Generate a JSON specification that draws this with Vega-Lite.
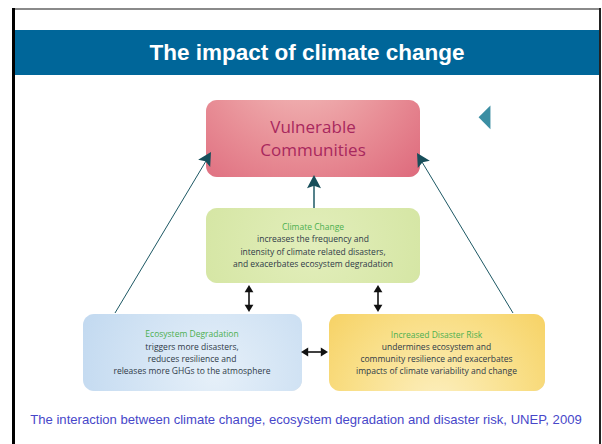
{
  "$schema": "https://vega.github.io/schema/vega-lite/v6.json",
  "width": 602,
  "height": 444,
  "autosize": {"type": "none"},
  "padding": 0,
  "background": "white",
  "config": {"view": {"stroke": null}},
  "encoding": {
    "x": {"field": "x", "type": "quantitative", "scale": {"domain": [0, 602], "nice": false, "zero": false}, "axis": null},
    "y": {"field": "y", "type": "quantitative", "scale": {"domain": [0, 444], "nice": false, "zero": false, "reverse": true}, "axis": null}
  },
  "layer": [
    {
      "data": {"values": [{"x": 15, "x2": 599, "y": 30, "y2": 75}]},
      "mark": {"type": "rect", "color": "#006699"},
      "encoding": {"x2": {"field": "x2"}, "y2": {"field": "y2"}}
    },
    {
      "data": {"values": [{"part": "top", "x": 12, "x2": 601, "y": 9, "y2": 9}]},
      "mark": {"type": "rule", "color": "#8a8a8a", "strokeWidth": 2},
      "encoding": {"x2": {"field": "x2"}, "y2": {"field": "y2"}}
    },
    {
      "data": {"values": [{"part": "left", "x": 13.5, "x2": 13.5, "y": 8, "y2": 444}]},
      "mark": {"type": "rule", "color": "#000000", "strokeWidth": 3},
      "encoding": {"x2": {"field": "x2"}, "y2": {"field": "y2"}}
    },
    {
      "data": {"values": [{"part": "right", "x": 600, "x2": 600, "y": 8, "y2": 444}]},
      "mark": {"type": "rule", "color": "#222222", "strokeWidth": 2},
      "encoding": {"x2": {"field": "x2"}, "y2": {"field": "y2"}}
    },
    {
      "data": {"values": [{"text": "The impact of climate change", "x": 307, "y": 53}]},
      "mark": {"type": "text", "font": "Liberation Sans", "fontWeight": "bold", "fontSize": 22.5, "color": "white", "align": "center", "baseline": "middle"},
      "encoding": {"text": {"field": "text"}}
    },
    {
      "data": {"values": [
        {"box": "vc", "x": 206, "x2": 420, "y": 100, "y2": 177},
        {"box": "cc", "x": 206, "x2": 420, "y": 208, "y2": 283},
        {"box": "ed", "x": 83, "x2": 302, "y": 314, "y2": 391},
        {"box": "dr", "x": 329, "x2": 545, "y": 314, "y2": 391}
      ]},
      "mark": {"type": "rect", "cornerRadius": 11, "color": "#000000", "opacity": 0.12, "xOffset": 2, "yOffset": 3},
      "encoding": {"x2": {"field": "x2"}, "y2": {"field": "y2"}}
    },
    {
      "data": {"values": [{"box": "vc", "x": 206, "x2": 420, "y": 100, "y2": 177}]},
      "mark": {"type": "rect", "cornerRadius": 11, "fill": {"gradient": "radial", "x1": 0.45, "y1": 0.1, "x2": 0.45, "y2": 0.1, "r1": 0, "r2": 0.85, "stops": [{"offset": 0, "color": "#f4c3bf"}, {"offset": 0.55, "color": "#e88e96"}, {"offset": 1, "color": "#dc6478"}]}},
      "encoding": {"x2": {"field": "x2"}, "y2": {"field": "y2"}}
    },
    {
      "data": {"values": [{"box": "cc", "x": 206, "x2": 420, "y": 208, "y2": 283}]},
      "mark": {"type": "rect", "cornerRadius": 11, "fill": {"gradient": "radial", "x1": 0.5, "y1": 0.5, "x2": 0.5, "y2": 0.5, "r1": 0, "r2": 0.8, "stops": [{"offset": 0, "color": "#e2eebb"}, {"offset": 1, "color": "#cfe299"}]}},
      "encoding": {"x2": {"field": "x2"}, "y2": {"field": "y2"}}
    },
    {
      "data": {"values": [{"box": "ed", "x": 83, "x2": 302, "y": 314, "y2": 391}]},
      "mark": {"type": "rect", "cornerRadius": 11, "fill": {"gradient": "radial", "x1": 0.6, "y1": 0.6, "x2": 0.6, "y2": 0.6, "r1": 0, "r2": 0.8, "stops": [{"offset": 0, "color": "#e6f0f9"}, {"offset": 1, "color": "#bad4ee"}]}},
      "encoding": {"x2": {"field": "x2"}, "y2": {"field": "y2"}}
    },
    {
      "data": {"values": [{"box": "dr", "x": 329, "x2": 545, "y": 314, "y2": 391}]},
      "mark": {"type": "rect", "cornerRadius": 11, "fill": {"gradient": "radial", "x1": 0.5, "y1": 0.75, "x2": 0.5, "y2": 0.75, "r1": 0, "r2": 0.8, "stops": [{"offset": 0, "color": "#fcefc0"}, {"offset": 0.5, "color": "#f9df88"}, {"offset": 1, "color": "#f5cb52"}]}},
      "encoding": {"x2": {"field": "x2"}, "y2": {"field": "y2"}}
    },
    {
      "data": {"values": [
        {"arrow": "left", "x": 115, "y": 313, "x2": 209, "y2": 156},
        {"arrow": "right", "x": 513, "y": 313, "x2": 419, "y2": 157}
      ]},
      "mark": {"type": "rule", "color": "#1d5864", "strokeWidth": 1},
      "encoding": {"x2": {"field": "x2"}, "y2": {"field": "y2"}}
    },
    {
      "data": {"values": [{"arrow": "mid", "x": 314, "y": 208, "x2": 314, "y2": 180}]},
      "mark": {"type": "rule", "color": "#1d5864", "strokeWidth": 1.5},
      "encoding": {"x2": {"field": "x2"}, "y2": {"field": "y2"}}
    },
    {
      "data": {"values": [
        {"head": "left", "x": 207.4, "y": 158, "angle": 30.8},
        {"head": "right", "x": 420.6, "y": 159, "angle": 329.2},
        {"head": "mid", "x": 314, "y": 182, "angle": 0}
      ]},
      "mark": {"type": "point", "shape": "M0,-1 L1,0.9 L0,0.55 L-1,0.9 Z", "filled": true, "color": "#174e5a", "opacity": 1, "size": 196},
      "encoding": {"angle": {"field": "angle", "type": "quantitative", "scale": null}}
    },
    {
      "data": {"values": [
        {"arrow": "a", "x": 249, "y": 287, "x2": 249, "y2": 310},
        {"arrow": "b", "x": 378, "y": 287, "x2": 378, "y2": 310},
        {"arrow": "c", "x": 303, "y": 352, "x2": 326, "y2": 352}
      ]},
      "mark": {"type": "rule", "color": "#111111", "strokeWidth": 1.6},
      "encoding": {"x2": {"field": "x2"}, "y2": {"field": "y2"}}
    },
    {
      "data": {"values": [
        {"x": 249, "y": 289, "angle": 0},
        {"x": 249, "y": 308, "angle": 180},
        {"x": 378, "y": 289, "angle": 0},
        {"x": 378, "y": 308, "angle": 180},
        {"x": 305, "y": 352, "angle": 270},
        {"x": 324, "y": 352, "angle": 90}
      ]},
      "mark": {"type": "point", "shape": "M0,-1 L1.1,0.8 L-1.1,0.8 Z", "filled": true, "color": "#111111", "opacity": 1, "size": 64},
      "encoding": {"angle": {"field": "angle", "type": "quantitative", "scale": null}}
    },
    {
      "data": {"values": [{"x": 484.5, "y": 117.3}]},
      "mark": {"type": "point", "shape": "M0.5,-1 L0.5,1 L-0.5,0 Z", "filled": true, "color": "#3b8ea3", "opacity": 1, "size": 560}
    },
    {
      "data": {"values": [
        {"text": "Vulnerable", "x": 313, "y": 128},
        {"text": "Communities", "x": 313, "y": 151}
      ]},
      "mark": {"type": "text", "font": "Open Sans", "fontSize": 17, "color": "#a8285e", "align": "center", "baseline": "middle"},
      "encoding": {"text": {"field": "text"}}
    },
    {
      "data": {"values": [
        {"text": "Climate Change", "x": 313, "y": 227.3},
        {"text": "Ecosystem Degradation", "x": 192, "y": 334.3},
        {"text": "Increased Disaster Risk", "x": 436.5, "y": 334.6}
      ]},
      "mark": {"type": "text", "font": "Open Sans", "fontSize": 8.5, "align": "center", "baseline": "middle", "color": "#4caf50"},
      "encoding": {"text": {"field": "text"}}
    },
    {
      "data": {"values": [
        {"text": "increases the frequency and", "x": 313, "y": 239.4},
        {"text": "intensity of climate related disasters,", "x": 313, "y": 251.6},
        {"text": "and exacerbates ecosystem degradation", "x": 313, "y": 263.7},
        {"text": "triggers more disasters,", "x": 192, "y": 346.6},
        {"text": "reduces resilience and", "x": 192, "y": 358.8},
        {"text": "releases more GHGs to the atmosphere", "x": 192, "y": 371},
        {"text": "undermines ecosystem and", "x": 436.5, "y": 346.8},
        {"text": "community resilience and exacerbates", "x": 436.5, "y": 359},
        {"text": "impacts of climate variability and change", "x": 436.5, "y": 371.2}
      ]},
      "mark": {"type": "text", "font": "Open Sans", "fontSize": 8.5, "align": "center", "baseline": "middle", "color": "#2f3a48"},
      "encoding": {"text": {"field": "text"}}
    },
    {
      "data": {"values": [{"text": "The interaction between climate change, ecosystem degradation and disaster risk, UNEP, 2009", "x": 306, "y": 420}]},
      "mark": {"type": "text", "font": "Liberation Sans", "fontSize": 13.1, "color": "#4747c9", "align": "center", "baseline": "middle"},
      "encoding": {"text": {"field": "text"}}
    }
  ]
}
